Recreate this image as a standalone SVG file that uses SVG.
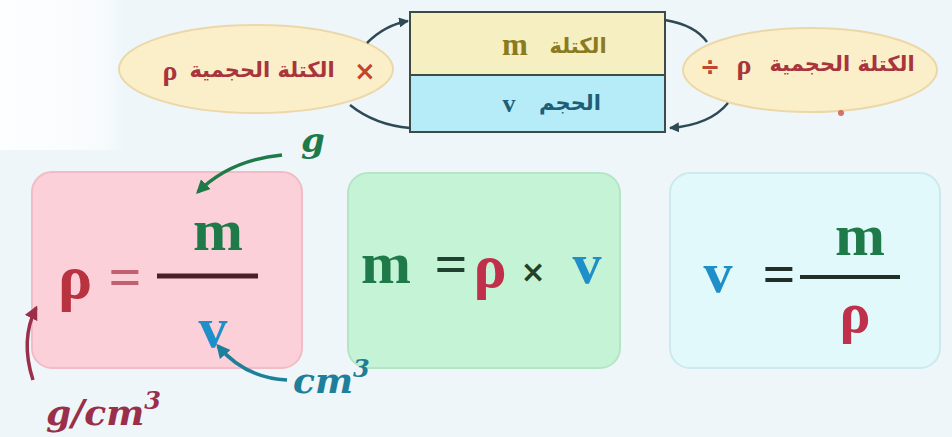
<svg xmlns="http://www.w3.org/2000/svg" width="952" height="437" viewBox="0 0 952 437">
<defs>
<style>
.ar{font-family:"DejaVu Sans",sans-serif;font-weight:bold;}
.sf{font-family:"Liberation Serif","DejaVu Serif",serif;font-weight:bold;}
.it{font-family:"DejaVu Serif","Liberation Serif",serif;font-weight:bold;font-style:italic;}
.conn{fill:none;stroke:#2f4a55;stroke-width:2.5;}
</style>
<linearGradient id="wg" x1="0" y1="0" x2="1" y2="0"><stop offset="0" stop-color="#ffffff" stop-opacity="0.9"/><stop offset="0.8" stop-color="#ffffff" stop-opacity="0.6"/><stop offset="1" stop-color="#ffffff" stop-opacity="0"/></linearGradient>
<marker id="ah" viewBox="0 0 10 10" refX="9" refY="5" markerWidth="4" markerHeight="4" orient="auto"><path d="M0,0 L10,5 L0,10 z" fill="#2f4a55"/></marker>
<marker id="ahg" viewBox="0 0 10 10" refX="8" refY="5" markerWidth="4" markerHeight="4" orient="auto"><path d="M0,0 L10,5 L0,10 z" fill="#1f7a4a"/></marker>
<marker id="ahr" viewBox="0 0 10 10" refX="8" refY="5" markerWidth="4" markerHeight="4" orient="auto"><path d="M0,0 L10,5 L0,10 z" fill="#9a2f4a"/></marker>
<marker id="ahb" viewBox="0 0 10 10" refX="8" refY="5" markerWidth="4" markerHeight="4" orient="auto"><path d="M0,0 L10,5 L0,10 z" fill="#1e7f9a"/></marker>
</defs>
<rect width="952" height="437" fill="#eef6fa"/>
<rect x="0" y="0" width="125" height="150" fill="url(#wg)"/>

<g id="left-ellipse">
<ellipse cx="256" cy="69" rx="137" ry="44" fill="#fbefca" stroke="#ecd7a8" stroke-width="2"/>
<text class="sf" x="170" y="80" font-size="28" fill="#a8343c" text-anchor="middle">ρ</text>
<text class="ar" x="262" y="77" font-size="21" fill="#a8343c" text-anchor="middle" direction="rtl">الكتلة الحجمية</text>
<text x="365" y="80" font-family="DejaVu Sans,sans-serif" font-weight="bold" font-size="26" fill="#c4462a" text-anchor="middle">×</text>
</g>

<g id="center-box">
<rect x="410" y="12" width="255" height="63" fill="#f5efc2" stroke="#3d4a45" stroke-width="2"/>
<rect x="410" y="75" width="255" height="57" fill="#b5ecf7" stroke="#3d4a45" stroke-width="2"/>
<text class="sf" x="515" y="55" font-size="31" fill="#8a7a20" text-anchor="middle">m</text>
<text class="ar" x="578" y="53" font-size="21" fill="#8a7a20" text-anchor="middle" direction="rtl">الكتلة</text>
<text class="sf" x="509" y="112" font-size="26" fill="#1e5e78" text-anchor="middle">v</text>
<text class="ar" x="570" y="110" font-size="21" fill="#1e5e78" text-anchor="middle" direction="rtl">الحجم</text>
</g>

<g id="right-ellipse">
<ellipse cx="810" cy="70" rx="127" ry="42" fill="#fbefca" stroke="#ecd7a8" stroke-width="2"/>
<text x="710" y="75" font-family="DejaVu Sans,sans-serif" font-weight="bold" font-size="24" fill="#c4462a" text-anchor="middle">÷</text>
<text class="sf" x="744" y="74" font-size="28" fill="#a8343c" text-anchor="middle">ρ</text>
<text class="ar" x="842" y="71" font-size="21" fill="#a8343c" text-anchor="middle" direction="rtl">الكتلة الحجمية</text>
<circle cx="841" cy="113" r="3" fill="#d0504a" opacity="0.8"/>
</g>

<g id="density-box">
<rect x="32" y="172" width="270" height="196" rx="20" fill="#fbd0d9" stroke="#f1bcc6" stroke-width="2"/>
<text class="sf" x="75" y="298" font-size="64" fill="#b8323f" text-anchor="middle">ρ</text>
<text class="sf" x="125" y="296" font-size="58" fill="#c06070" text-anchor="middle">=</text>
<line x1="157" y1="276" x2="258" y2="276" stroke="#4a2028" stroke-width="5"/>
<text class="sf" x="218" y="250" font-size="60" fill="#1f7a4a" text-anchor="middle">m</text>
<text class="sf" x="213" y="347" font-size="58" fill="#1e8fc8" text-anchor="middle">v</text>
</g>

<g id="mass-box">
<rect x="348" y="173" width="272" height="195" rx="20" fill="#c4f3d5" stroke="#b4e6c6" stroke-width="2"/>
<text class="sf" x="386" y="283" font-size="60" fill="#1f7a4a" text-anchor="middle">m</text>
<text class="sf" x="451" y="283" font-size="58" fill="#204030" text-anchor="middle">=</text>
<text class="sf" x="490" y="287" font-size="62" fill="#c0304a" text-anchor="middle">ρ</text>
<text x="533" y="282" font-family="DejaVu Sans,sans-serif" font-weight="bold" font-size="30" fill="#204030" text-anchor="middle">×</text>
<text class="sf" x="587" y="283" font-size="58" fill="#1e8fc8" text-anchor="middle">v</text>
</g>

<g id="volume-box">
<rect x="670" y="173" width="270" height="195" rx="20" fill="#e1f9fb" stroke="#cde9ee" stroke-width="2"/>
<text class="sf" x="718" y="292" font-size="58" fill="#1e8fc8" text-anchor="middle">v</text>
<text class="sf" x="779" y="293" font-size="58" fill="#203028" text-anchor="middle">=</text>
<line x1="800" y1="277" x2="900" y2="277" stroke="#203028" stroke-width="4"/>
<text class="sf" x="860" y="255" font-size="60" fill="#1f7a4a" text-anchor="middle">m</text>
<text class="sf" x="855" y="332" font-size="58" fill="#c0304a" text-anchor="middle">ρ</text>
</g>

<g id="labels">
<text class="it" x="313" y="152" font-size="34" fill="#1f7a4a" text-anchor="middle">g</text>
<text class="it" x="46" y="425" font-size="36" fill="#9a2f4a">g/cm<tspan dy="-16" font-size="24">3</tspan></text>
<text class="it" x="293" y="393" font-size="36" fill="#1e7f9a">cm<tspan dy="-16" font-size="24">3</tspan></text>
</g>

<g id="connectors">
<path class="conn" d="M367,43 Q385,25 408,21" marker-end="url(#ah)"/>
<path class="conn" d="M350,105 Q375,125 410,128"/>
<path class="conn" d="M665,20 Q695,25 707,42"/>
<path class="conn" d="M728,103 Q710,125 670,128" marker-end="url(#ah)"/>
<path d="M282,155 Q230,160 198,192" fill="none" stroke="#1f7a4a" stroke-width="3.5" marker-end="url(#ahg)"/>
<path d="M33,380 Q20,340 36,308" fill="none" stroke="#9a2f4a" stroke-width="3.5" marker-end="url(#ahr)"/>
<path d="M287,380 Q245,378 218,346" fill="none" stroke="#1e7f9a" stroke-width="3.5" marker-end="url(#ahb)"/>
</g>
</svg>
